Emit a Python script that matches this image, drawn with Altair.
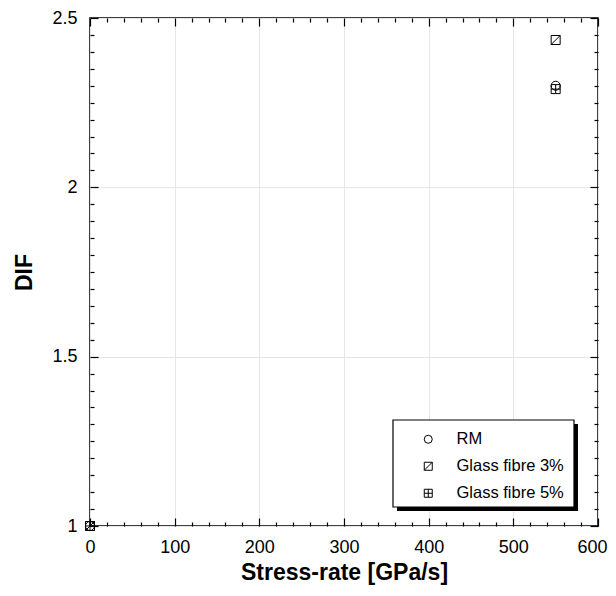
import altair as alt
import pandas as pd

series = ["RM", "Glass fibre 3%", "Glass fibre 5%"]
stress_rate = [0, 550, 0, 550, 0, 550]
dif_values = [1.0, 2.30, 1.0, 2.435, 1.0, 2.29]
series_col = ["RM", "RM", "Glass fibre 3%", "Glass fibre 3%", "Glass fibre 5%", "Glass fibre 5%"]

x_major = [0, 100, 200, 300, 400, 500, 600]
x_minor = [v for v in range(0, 601, 20) if v % 100 != 0]
y_major = [1.0, 1.5, 2.0, 2.5]
y_minor = [round(1.0 + 0.05 * i, 2) for i in range(31) if i % 10 != 0]

shapes = [
    "circle",
    "M-1,-1H1V1H-1ZM-1,1L1,-1",
    "M-1,-1H1V1H-1ZM0,-1V1M-1,0H1",
]

df = pd.DataFrame({"stress": stress_rate, "dif": dif_values, "series": series_col})

W = 508
H = 508
FONT = "Liberation Sans"

xscale = alt.Scale(domain=[0, 600], nice=False, zero=False)
yscale = alt.Scale(domain=[1, 2.5], nice=False, zero=False)

main = alt.Chart(df).mark_point(filled=False, stroke="black", strokeWidth=1, size=81, opacity=1).encode(
    x=alt.X("stress:Q", scale=xscale,
            axis=alt.Axis(orient="bottom", values=x_major, title="Stress-rate [GPa/s]",
                          tickSize=0, domain=False, grid=True, gridColor="#e6e6e6", gridWidth=1,
                          labelFontSize=18, labelFont=FONT, labelColor="black", labelPadding=12,
                          labelAlign={"condition": {"test": "datum.value == 600", "value": "right"},
                                      "value": "center"},
                          labelOffset={"condition": {"test": "datum.value == 600", "value": 9},
                                       "value": 0},
                          titleFontSize=23, titleFont=FONT, titleFontWeight="bold", titleColor="black",
                          titlePadding=5, labelFlush=False)),
    y=alt.Y("dif:Q", scale=yscale,
            axis=alt.Axis(orient="left", values=y_major, title="DIF", format="~g",
                          tickSize=0, domain=False, grid=True, gridColor="#e6e6e6", gridWidth=1,
                          labelFontSize=18, labelFont=FONT, labelColor="black", labelPadding=13,
                          titleFontSize=23, titleFont=FONT, titleFontWeight="bold", titleColor="black",
                          titlePadding=15, labelFlush=False)),
    shape=alt.Shape("series:N", scale=alt.Scale(domain=series, range=shapes),
                    legend=alt.Legend(title=None, orient="none", legendX=330, legendY=413,
                                      symbolSize=64, symbolStrokeColor="black", symbolStrokeWidth=1,
                                      symbolFillColor="transparent",
                                      labelFontSize=16.5, labelFont=FONT, labelColor="black",
                                      labelOffset=20, rowPadding=10, padding=0)),
)


def x_ticks(orient, offset, values, size):
    return alt.Chart(df).mark_point(opacity=0).encode(
        x=alt.X("stress:Q", scale=xscale,
                axis=alt.Axis(orient=orient, offset=offset, values=values, tickSize=size,
                              labels=False, domain=False, grid=False, title=None,
                              tickColor="black", tickWidth=1.2)),
        y=alt.Y("dif:Q", scale=yscale, axis=None),
    )


def y_ticks(orient, offset, values, size):
    return alt.Chart(df).mark_point(opacity=0).encode(
        x=alt.X("stress:Q", scale=xscale, axis=None),
        y=alt.Y("dif:Q", scale=yscale,
                axis=alt.Axis(orient=orient, offset=offset, values=values, tickSize=size,
                              labels=False, domain=False, grid=False, title=None,
                              tickColor="black", tickWidth=1.2)),
    )


box_df = pd.DataFrame({"k": [0]})
shadow = alt.Chart(box_df).mark_rect(color="black").encode(
    x=alt.value(307), x2=alt.value(488), y=alt.value(406), y2=alt.value(493))
box = alt.Chart(box_df).mark_rect(fill="white", stroke="black", strokeWidth=1.2).encode(
    x=alt.value(303), x2=alt.value(484), y=alt.value(402), y2=alt.value(489))

layers = [
    x_ticks("top", -H, x_major, 8),
    x_ticks("bottom", -H, x_major, 8),
    x_ticks("top", -H, x_minor, 4),
    x_ticks("bottom", -H, x_minor, 4),
    y_ticks("right", -W, y_major, 8),
    y_ticks("left", -W, y_major, 8),
    y_ticks("right", -W, y_minor, 4),
    y_ticks("left", -W, y_minor, 4),
]

chart = alt.layer(main, *layers, shadow, box).resolve_axis(
    x="independent", y="independent"
).properties(
    width=W, height=H, autosize=alt.AutoSizeParams(type="none"),
    padding={"left": 82, "top": 10, "right": 10, "bottom": 62},
).configure_view(stroke="black", strokeWidth=1.5)

chart.save("out.html", embed_options={"renderer": "svg", "actions": False})
